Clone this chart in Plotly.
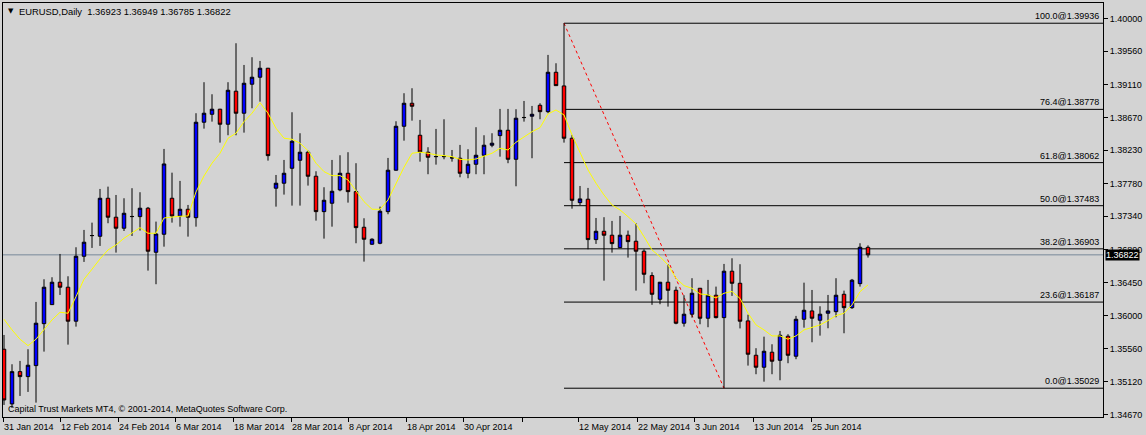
import plotly.graph_objects as go

# ---------------- data (EURUSD daily, bar index 0..108) ----------------
opens = [1.35553, 1.34818, 1.35252, 1.35185, 1.35333, 1.35897, 1.36153, 1.36454, 1.36387, 1.35930,
         1.36803, 1.37080, 1.37072, 1.37583, 1.37328, 1.37180, 1.37336, 1.37336, 1.37449, 1.36857,
         1.37099, 1.37583, 1.37345, 1.37435, 1.37322, 1.38605, 1.38712, 1.38780, 1.38578, 1.39022,
         1.38726, 1.39116, 1.39210, 1.39331, 1.37718, 1.37785, 1.37986, 1.38094, 1.38202, 1.37879,
         1.37403, 1.37516, 1.37695, 1.37919, 1.37672, 1.37193, 1.36965, 1.36978, 1.37403, 1.37960,
         1.38551, 1.38860, 1.38430, 1.38202, 1.38142, 1.38142, 1.38125, 1.38121, 1.37919, 1.38040,
         1.38161, 1.38296, 1.38425, 1.38497, 1.38107, 1.38667, 1.38686, 1.38833, 1.38747, 1.39277,
         1.39093, 1.38390, 1.37524, 1.37570, 1.37027, 1.37139, 1.37086, 1.36919, 1.37086, 1.37005,
         1.36871, 1.36543, 1.36225, 1.36454, 1.36346, 1.35903, 1.36024, 1.36373, 1.35970, 1.36279,
         1.35978, 1.36602, 1.36440, 1.35934, 1.35472, 1.35311, 1.35513, 1.35405, 1.35728, 1.35459,
         1.35956, 1.36068, 1.35943, 1.36037, 1.36058, 1.36292, 1.36112, 1.36435, 1.36923]
highs = [1.35745, 1.35351, 1.35396, 1.35553, 1.36189, 1.36494, 1.36521, 1.36834, 1.36534, 1.36924,
         1.37157, 1.37255, 1.37708, 1.37739, 1.37627, 1.37583, 1.37718, 1.37664, 1.37466, 1.37269,
         1.38246, 1.37927, 1.37816, 1.37493, 1.38726, 1.39143, 1.38981, 1.38785, 1.39143, 1.39667,
         1.39375, 1.39479, 1.39429, 1.39335, 1.37896, 1.38098, 1.38739, 1.38457, 1.38223, 1.37946,
         1.37731, 1.38098, 1.38161, 1.38202, 1.38054, 1.37314, 1.37045, 1.37470, 1.38125, 1.38618,
         1.38995, 1.39062, 1.38636, 1.38269, 1.38515, 1.38645, 1.38232, 1.38300, 1.38242, 1.38538,
         1.38430, 1.38457, 1.38784, 1.38784, 1.38780, 1.38891, 1.38824, 1.38860, 1.39510, 1.39398,
         1.39936, 1.38434, 1.37748, 1.37722, 1.37318, 1.37328, 1.37278, 1.37345, 1.37148, 1.37247,
         1.36897, 1.36588, 1.36458, 1.36696, 1.36395, 1.36279, 1.36508, 1.36375, 1.36485, 1.36395,
         1.36700, 1.36776, 1.36696, 1.36018, 1.35567, 1.35722, 1.35620, 1.35799, 1.35755, 1.36001,
         1.36448, 1.36350, 1.36131, 1.36283, 1.36508, 1.36341, 1.36498, 1.36978, 1.36949]
lows = [1.34804, 1.34764, 1.34925, 1.34979, 1.34835, 1.35521, 1.36148, 1.36283, 1.35615, 1.35857,
        1.36727, 1.36915, 1.36942, 1.37247, 1.36852, 1.37143, 1.37076, 1.37148, 1.36610, 1.36427,
        1.36932, 1.37255, 1.37201, 1.37067, 1.37201, 1.38519, 1.38613, 1.38331, 1.38430, 1.38430,
        1.38465, 1.38793, 1.38882, 1.38089, 1.37470, 1.37632, 1.37484, 1.37484, 1.37753, 1.37282,
        1.37040, 1.37201, 1.37677, 1.37524, 1.36978, 1.36731, 1.36955, 1.36965, 1.37368, 1.37955,
        1.38357, 1.38626, 1.38075, 1.37906, 1.38035, 1.38107, 1.38075, 1.37865, 1.37852, 1.37906,
        1.37906, 1.38269, 1.38142, 1.38054, 1.37744, 1.38613, 1.38121, 1.38645, 1.38726, 1.39097,
        1.38331, 1.37443, 1.37489, 1.36897, 1.36969, 1.36475, 1.36852, 1.36915, 1.36785, 1.36341,
        1.36440, 1.36150, 1.36158, 1.36126, 1.35889, 1.35857, 1.35978, 1.35889, 1.35849, 1.35968,
        1.35029, 1.36270, 1.35833, 1.35333, 1.35217, 1.35117, 1.35217, 1.35136, 1.35365, 1.35419,
        1.35843, 1.35647, 1.35736, 1.35835, 1.35983, 1.35768, 1.36095, 1.36395, 1.36785]
closes = [1.34871, 1.35252, 1.35185, 1.35338, 1.35903, 1.36387, 1.36454, 1.36387, 1.35930, 1.36803,
          1.36992, 1.37082, 1.37583, 1.37328, 1.37180, 1.37381, 1.37338, 1.37449, 1.36871, 1.37103,
          1.38044, 1.37345, 1.37435, 1.37328, 1.38605, 1.38726, 1.38780, 1.38578, 1.39035, 1.38726,
          1.39129, 1.39210, 1.39331, 1.38156, 1.37785, 1.37919, 1.38349, 1.38202, 1.37879, 1.37403,
          1.37556, 1.37677, 1.37919, 1.37672, 1.37188, 1.37032, 1.37032, 1.37408, 1.37960, 1.38551,
          1.38860, 1.38820, 1.38206, 1.38134, 1.38144, 1.38144, 1.38127, 1.37919, 1.38040, 1.38161,
          1.38296, 1.38323, 1.38497, 1.38107, 1.38659, 1.38669, 1.38712, 1.38747, 1.39277, 1.39097,
          1.38390, 1.37556, 1.37574, 1.37027, 1.37139, 1.37086, 1.36973, 1.37086, 1.37000, 1.36871,
          1.36561, 1.36292, 1.36454, 1.36346, 1.35903, 1.36024, 1.36306, 1.35970, 1.36279, 1.35978,
          1.36602, 1.36440, 1.35930, 1.35486, 1.35311, 1.35526, 1.35392, 1.35741, 1.35472, 1.35956,
          1.36077, 1.35970, 1.36024, 1.36068, 1.36279, 1.36112, 1.36481, 1.36924, 1.36822]
ma = [1.35956, 1.35813, 1.35688, 1.35601, 1.35688, 1.35813, 1.35947, 1.36050, 1.36037, 1.36260,
      1.36494, 1.36629, 1.36767, 1.36888, 1.36955, 1.37045, 1.37112, 1.37188, 1.37112, 1.37112,
      1.37318, 1.37332, 1.37341, 1.37345, 1.37668, 1.37883, 1.38054, 1.38188, 1.38390, 1.38457,
      1.38613, 1.38726, 1.38868, 1.38726, 1.38524, 1.38390, 1.38376, 1.38323, 1.38223, 1.38054,
      1.37941, 1.37887, 1.37887, 1.37829, 1.37681, 1.37537, 1.37435, 1.37435, 1.37560, 1.37785,
      1.38000, 1.38188, 1.38202, 1.38188, 1.38165, 1.38156, 1.38142, 1.38107, 1.38098, 1.38111,
      1.38152, 1.38188, 1.38255, 1.38232, 1.38336, 1.38411, 1.38478, 1.38532, 1.38716, 1.38770,
      1.38703, 1.38434, 1.38210, 1.37964, 1.37785, 1.37627, 1.37493, 1.37426, 1.37336, 1.37238,
      1.37067, 1.36888, 1.36798, 1.36686, 1.36508, 1.36408, 1.36373, 1.36297, 1.36283, 1.36243,
      1.36306, 1.36330, 1.36236, 1.36037, 1.35880, 1.35813, 1.35732, 1.35732, 1.35688, 1.35732,
      1.35813, 1.35849, 1.35880, 1.35938, 1.36005, 1.36037, 1.36149, 1.36327, 1.36418]

# Date labels (bar positions where MT4 placed them)
date_tick_pos = [-0.125, 7, 14.25, 21.375, 28.625, 35.875, 43, 50.25, 57.375, 64.75,
                 71.75, 79.125, 86.25, 93.625, 100.875]
date_tick_text = ["31 Jan 2014", "12 Feb 2014", "24 Feb 2014", "6 Mar 2014", "18 Mar 2014",
                  "28 Mar 2014", "8 Apr 2014", "18 Apr 2014", "30 Apr 2014", "",
                  "12 May 2014", "22 May 2014", "3 Jun 2014", "13 Jun 2014", "25 Jun 2014"]
price_ticks = [1.34670, 1.35120, 1.35560, 1.36000, 1.36450, 1.36890, 1.37340,
               1.37780, 1.38230, 1.38670, 1.39110, 1.39560, 1.40000]

# Fibonacci retracement (anchored high bar 70 -> low bar 90)
fib_start_bar = 70
fib_end_bar = 90
fib_high = 1.39936
fib_low = 1.35029
fib_levels = [0.0, 23.6, 38.2, 50.0, 61.8, 76.4, 100.0]
fib_prices = [1.35029, 1.36187, 1.36903, 1.37483, 1.38062, 1.38778, 1.39936]

current_price = 1.36822
title_text = "EURUSD,Daily\u00a0\u00a01.36923 1.36949 1.36785 1.36822"
copyright_text = "Capital Trust Markets MT4, \u00a9 2001-2014, MetaQuotes Software Corp."

X_RANGE = [-0.125, 137.375]
Y_RANGE = [1.34642, 1.40208]
FONT = "Liberation Sans, Arial, sans-serif"

idx = list(range(len(opens)))

fig = go.Figure()
fig.add_trace(go.Candlestick(
    x=idx, open=opens, high=highs, low=lows, close=closes,
    increasing=dict(fillcolor="#0000FF", line=dict(color="#000000", width=1)),
    decreasing=dict(fillcolor="#FF0000", line=dict(color="#000000", width=1)),
    whiskerwidth=0, showlegend=False, hoverinfo="skip"))
fig.add_trace(go.Scatter(
    x=idx, y=ma, mode="lines", line=dict(color="#FFFF00", width=1),
    showlegend=False, hoverinfo="skip"))

shapes = []
# current price line
shapes.append(dict(type="line", xref="paper", yref="y", x0=0, x1=1,
                   y0=current_price, y1=current_price,
                   line=dict(color="#778899", width=1), layer="below"))
# fib horizontal lines
for p in fib_prices:
    shapes.append(dict(type="line", xref="x", yref="y", x0=fib_start_bar, x1=X_RANGE[1],
                       y0=p, y1=p, line=dict(color="#000000", width=1), layer="below"))
# fib trend line
shapes.append(dict(type="line", xref="x", yref="y", x0=fib_start_bar, x1=fib_end_bar,
                   y0=fib_high, y1=fib_low, line=dict(color="#FF0000", width=1, dash="dot"),
                   layer="below"))

annotations = []
for lvl, p in zip(fib_levels, fib_prices):
    annotations.append(dict(text=f"{lvl:.1f}@{p:.5f}", xref="paper", x=1, xanchor="right",
                            xshift=-2, yref="y", y=p, yanchor="bottom", showarrow=False,
                            font=dict(family=FONT, size=9, color="#000000")))
# current price label on axis
annotations.append(dict(text=f"{current_price:.5f}", xref="paper", x=1, xanchor="left",
                        xshift=2, yref="y", y=current_price, yanchor="middle", showarrow=False,
                        bgcolor="#000000", borderpad=0,
                        font=dict(family=FONT, size=9, color="#FFFFFF")))
# title
annotations.append(dict(text="\u25bc", xref="paper", x=0, xshift=3, xanchor="left",
                        yref="paper", y=1, yshift=-8, yanchor="middle", showarrow=False,
                        font=dict(family="DejaVu Sans", size=7, color="#000000")))
annotations.append(dict(text=title_text, xref="paper", x=0, xshift=14, xanchor="left",
                        yref="paper", y=1, yshift=-8, yanchor="middle", showarrow=False,
                        font=dict(family=FONT, size=9.4, color="#000000")))
# copyright
annotations.append(dict(text=copyright_text, xref="paper", x=0, xshift=3, xanchor="left",
                        yref="paper", y=0, yshift=8, yanchor="middle", showarrow=False,
                        font=dict(family=FONT, size=9, color="#000000")))
# date labels
span = X_RANGE[1] - X_RANGE[0]
for pos, t in zip(date_tick_pos, date_tick_text):
    if not t:
        continue
    annotations.append(dict(text=t, xref="paper", x=(pos - X_RANGE[0]) / span, xanchor="left",
                            xshift=-1, yref="paper", y=0, yanchor="top", yshift=-3,
                            showarrow=False, font=dict(family=FONT, size=9, color="#000000")))

fig.update_layout(
    width=1146, height=435,
    margin=dict(l=3, r=43, t=3, b=18),
    paper_bgcolor="#D3D3D3", plot_bgcolor="#D3D3D3",
    boxgap=0.38,
    showlegend=False,
    font=dict(family=FONT, size=9, color="#000000"),
    xaxis=dict(range=X_RANGE, showgrid=False, zeroline=False,
               rangeslider=dict(visible=False),
               showline=True, mirror=True, linecolor="#000000", linewidth=1,
               tickmode="array", tickvals=date_tick_pos, ticktext=[""] * len(date_tick_pos),
               ticks="outside", ticklen=4, tickcolor="#000000", tickwidth=1),
    yaxis=dict(side="right", range=Y_RANGE, showgrid=False, zeroline=False,
               showline=True, mirror=True, linecolor="#000000", linewidth=1,
               tickmode="array", tickvals=price_ticks,
               ticktext=[f"{v:.5f}" for v in price_ticks],
               ticks="outside", ticklen=4, tickcolor="#000000", tickwidth=1,
               tickfont=dict(family=FONT, size=9, color="#000000")),
    shapes=shapes,
    annotations=annotations,
)

fig.write_html("out.html",
               config={"displayModeBar": False, "staticPlot": True},
               post_script="document.body.style.margin='0';document.body.style.background='#D3D3D3';")
